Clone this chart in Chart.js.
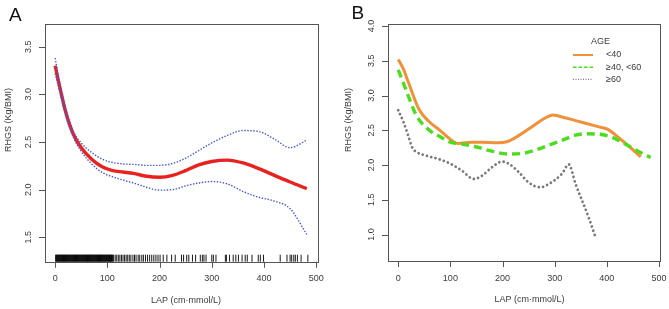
<!DOCTYPE html>
<html><head><meta charset="utf-8">
<script src="https://cdn.jsdelivr.net/npm/chart.js@4/dist/chart.umd.min.js"></script>
<style>
html,body{margin:0;padding:0;background:#fff;width:669px;height:309px;overflow:hidden}
#wa{position:absolute;left:0;top:0;width:335px;height:309px}
#wb{position:absolute;left:335px;top:0;width:334px;height:309px}
</style></head><body>
<div id="wa"><canvas id="ca" width="335" height="309"></canvas></div>
<div id="wb"><canvas id="cb" width="334" height="309"></canvas></div>
<script>
// ---------- data ----------
const xTicks = [0, 100, 200, 300, 400, 500];
const yTicksA = [1.5, 2.0, 2.5, 3.0, 3.5];
const yTicksB = [1.0, 1.5, 2.0, 2.5, 3.0, 3.5, 4.0];

// Panel A: smooth fit with 95% CI
const lapA =      [0, 10, 20, 35, 50, 70, 90, 110, 130, 150, 175, 200, 225, 250, 275, 300, 330, 360, 390, 420, 450, 482];
const fitA =      [3.30, 3.05, 2.82, 2.58, 2.44, 2.32, 2.24, 2.20, 2.185, 2.17, 2.14, 2.13, 2.15, 2.20, 2.26, 2.295, 2.31, 2.28, 2.22, 2.15, 2.08, 2.01];
const upperA =    [3.38, 3.08, 2.85, 2.61, 2.49, 2.39, 2.32, 2.285, 2.27, 2.265, 2.255, 2.255, 2.275, 2.33, 2.41, 2.49, 2.57, 2.62, 2.61, 2.53, 2.44, 2.52];
const lowerA =    [3.22, 3.00, 2.78, 2.55, 2.40, 2.27, 2.18, 2.135, 2.10, 2.07, 2.025, 1.995, 2.00, 2.04, 2.07, 2.085, 2.06, 1.98, 1.92, 1.88, 1.80, 1.53];

// Rug of observed LAP values
const rugLAP = [1,2,3,4,5,6,7,8,9,10,11,12,13,14,15,16,17,18,19,20,21,22,23,24,25,26,27,28,29,30,31,32,33,34,35,36,37,38,39,40,
  41,42,43,44,45,46,47,48,49,50,51,52,53,54,55,56,57,58,59,60,61,62,63,64,65,66,67,68,69,70,71,72,73,74,75,76,77,78,79,80,
  81,82,83,84,85,86,87,88,89,90,91,92,93,94,95,96,97,98,99,100,101,102,103,104,105,106,107,108,109,110,
  112,115,118,121,124,127,130,133,136,139,142,145,149,152,155,159,162,166,169,173,177,181,185,189,193,197,
  201,207,214,223,230,242,246,252,256,263,269,278,282,285,289,300,303,308,326,328,334,341,346,351,358,364,368,377,389,393,399,431,444,450,453,457,460,464,471,484];

// Panel B: by age group
const ageLabels = ['<40', '\u226540, <60', '\u226560'];
const lapB1 =  [0, 10, 20, 40, 60, 80, 100, 115, 140, 160, 190, 210, 230, 260, 280, 297, 320, 350, 385, 400, 430, 465];
const rhgsB1 = [3.52, 3.38, 3.18, 2.80, 2.62, 2.50, 2.37, 2.31, 2.33, 2.33, 2.32, 2.34, 2.42, 2.57, 2.67, 2.72, 2.68, 2.62, 2.55, 2.52, 2.35, 2.12];
const lapB2 =  [0, 10, 20, 36, 60, 80, 100, 125, 150, 180, 210, 240, 265, 290, 315, 340, 360, 390, 410, 436, 460, 484];
const rhgsB2 = [3.37, 3.18, 2.98, 2.70, 2.50, 2.41, 2.33, 2.30, 2.26, 2.20, 2.16, 2.17, 2.22, 2.29, 2.36, 2.43, 2.45, 2.44, 2.40, 2.30, 2.20, 2.11];
const lapB3 =  [0, 10, 18, 27, 35, 59, 80, 100, 122, 145, 161, 180, 199, 212, 231, 250, 273, 289, 314, 327, 340, 365, 378];
const rhgsB3 = [2.79, 2.62, 2.45, 2.25, 2.19, 2.125, 2.08, 2.02, 1.92, 1.80, 1.85, 1.97, 2.05, 2.02, 1.90, 1.75, 1.68, 1.73, 1.875, 2.01, 1.73, 1.25, 0.97];

// ---------- helpers ----------
const FONT = '"Liberation Sans", Arial, sans-serif';
const TXT = '#3a3a3a';
const pts = (xs, ys) => xs.map((x, i) => ({x: x, y: ys[i]}));

function decoPlugin(cfg) {
  return {
    id: 'deco',
    afterDatasetsDraw(chart) {
      const ctx = chart.ctx, a = chart.chartArea, xs = chart.scales.x;
      if (cfg.rug) {
        ctx.save();
        ctx.strokeStyle = 'rgba(0,0,0,0.9)';
        ctx.lineWidth = 1;
        ctx.beginPath();
        cfg.rug.forEach(v => {
          const px = xs.getPixelForValue(v);
          ctx.moveTo(px, a.bottom - 7);
          ctx.lineTo(px, a.bottom);
        });
        ctx.stroke();
        ctx.restore();
      }
    },
    afterDraw(chart) {
      const ctx = chart.ctx, a = chart.chartArea, xs = chart.scales.x, ys = chart.scales.y;
      ctx.save();
      // box
      ctx.strokeStyle = '#555';
      ctx.lineWidth = 1;
      ctx.strokeRect(Math.round(a.left) + 0.5, Math.round(a.top) + 0.5, Math.round(a.right - a.left), Math.round(a.bottom - a.top));
      // ticks
      ctx.beginPath();
      cfg.xTicks.forEach(v => {
        const px = Math.round(xs.getPixelForValue(v)) + 0.5;
        ctx.moveTo(px, a.bottom); ctx.lineTo(px, a.bottom + 6);
      });
      cfg.yTicks.forEach(v => {
        const py = Math.round(ys.getPixelForValue(v)) + 0.5;
        ctx.moveTo(a.left, py); ctx.lineTo(a.left - 6, py);
      });
      ctx.stroke();
      // tick labels
      ctx.fillStyle = TXT;
      ctx.font = '9px ' + FONT;
      ctx.textAlign = 'center';
      ctx.textBaseline = 'middle';
      cfg.xTicks.forEach(v => {
        ctx.fillText(String(v), xs.getPixelForValue(v), cfg.xLabY);
      });
      cfg.yTicks.forEach(v => {
        ctx.save();
        ctx.translate(cfg.yLabX, ys.getPixelForValue(v));
        ctx.rotate(-Math.PI / 2);
        ctx.fillText(v.toFixed(1), 0, 0);
        ctx.restore();
      });
      // axis titles
      ctx.fillText('LAP (cm\u00b7mmol/L)', cfg.xTitleX, cfg.xTitleY);
      ctx.save();
      ctx.translate(cfg.yTitleX, cfg.yTitleY);
      ctx.rotate(-Math.PI / 2);
      ctx.fillText('RHGS (Kg/BMI)', 0, 0);
      ctx.restore();
      // panel letter
      ctx.fillStyle = '#111';
      ctx.font = '19px ' + FONT;
      ctx.textAlign = 'left';
      ctx.textBaseline = 'alphabetic';
      ctx.fillText(cfg.letter, cfg.letterX, cfg.letterY);
      // legend
      if (cfg.legend) {
        const L = cfg.legend;
        ctx.fillStyle = TXT;
        ctx.font = '9px ' + FONT;
        ctx.textAlign = 'center';
        ctx.textBaseline = 'middle';
        ctx.fillText(L.title, L.titleX, L.titleY);
        ctx.textAlign = 'left';
        chart.data.datasets.forEach((ds, i) => {
          const y = L.y0 + i * L.dy;
          ctx.save();
          ctx.strokeStyle = ds.borderColor;
          ctx.lineWidth = L.widths[i];
          ctx.setLineDash(L.dashes[i]);
          ctx.lineCap = 'butt';
          ctx.beginPath();
          ctx.moveTo(L.x1, y); ctx.lineTo(L.x2, y);
          ctx.stroke();
          ctx.restore();
          ctx.fillStyle = TXT;
          ctx.fillText(ds.label, L.textX, y);
        });
      }
      ctx.restore();
    }
  };
}

function baseOptions(xmin, xmax, ymin, ymax, yW, xH, pad) {
  return {
    responsive: false,
    animation: false,
    devicePixelRatio: 1,
    layout: {padding: pad},
    plugins: {legend: {display: false}, tooltip: {enabled: false}},
    elements: {point: {radius: 0, hoverRadius: 0}},
    scales: {
      x: {type: 'linear', min: xmin, max: xmax,
          grid: {display: false}, border: {display: false}, ticks: {display: false},
          afterFit: s => { s.height = xH; }},
      y: {type: 'linear', min: ymin, max: ymax,
          grid: {display: false}, border: {display: false}, ticks: {display: false},
          afterFit: s => { s.width = yW; }}
    }
  };
}

// ---------- Chart A ----------
new Chart(document.getElementById('ca'), {
  type: 'scatter',
  data: {
    datasets: [
      {label: 'fit', data: pts(lapA, fitA), showLine: true, borderColor: '#e8221f', borderWidth: 3.4,
       cubicInterpolationMode: 'monotone', order: 2},
      {label: 'upper', data: pts(lapA, upperA), showLine: true, borderColor: '#4055dd', borderWidth: 1.4,
       borderDash: [1.4, 1.6], cubicInterpolationMode: 'monotone', order: 1},
      {label: 'lower', data: pts(lapA, lowerA), showLine: true, borderColor: '#4055dd', borderWidth: 1.4,
       borderDash: [1.4, 1.6], cubicInterpolationMode: 'monotone', order: 1}
    ]
  },
  options: baseOptions(-19.4, 503.4, 1.244, 3.738, 45, 47.3, {top: 24, right: 17, left: 0, bottom: 0}),
  plugins: [decoPlugin({
    xTicks: xTicks, yTicks: yTicksA, rug: rugLAP,
    xLabY: 279, yLabX: 29, xTitleX: 186, xTitleY: 301, yTitleX: 8.5, yTitleY: 120,
    letter: 'A', letterX: 9, letterY: 21
  })]
});

// ---------- Chart B ----------
new Chart(document.getElementById('cb'), {
  type: 'scatter',
  data: {
    datasets: [
      {label: ageLabels[0], data: pts(lapB1, rhgsB1), showLine: true, borderColor: '#f0913a', borderWidth: 3,
       cubicInterpolationMode: 'monotone', order: 3},
      {label: ageLabels[1], data: pts(lapB2, rhgsB2), showLine: true, borderColor: '#4ddd1f', borderWidth: 3.4,
       borderDash: [8, 5], cubicInterpolationMode: 'monotone', order: 2},
      {label: ageLabels[2], data: pts(lapB3, rhgsB3), showLine: true, borderColor: '#7a7a7a', borderWidth: 2.8,
       borderDash: [0.01, 4.4], borderCapStyle: 'round', cubicInterpolationMode: 'monotone', order: 1}
    ]
  },
  options: baseOptions(-19.6, 501, 0.62, 4.03, 53, 48, {top: 24, right: 9.5, left: 0, bottom: 0}),
  plugins: [decoPlugin({
    xTicks: xTicks, yTicks: yTicksB,
    xLabY: 279, yLabX: 36.5, xTitleX: 194.5, xTitleY: 300, yTitleX: 13.5, yTitleY: 120,
    letter: 'B', letterX: 16.5, letterY: 19,
    legend: {title: 'AGE', titleX: 265.5, titleY: 42, x1: 238, x2: 258, textX: 271, y0: 55, dy: 12.2,
             widths: [2, 1.6, 1.2], dashes: [[], [3.5, 2], [1, 1.5]]}
  })]
});
</script>
</body></html>
